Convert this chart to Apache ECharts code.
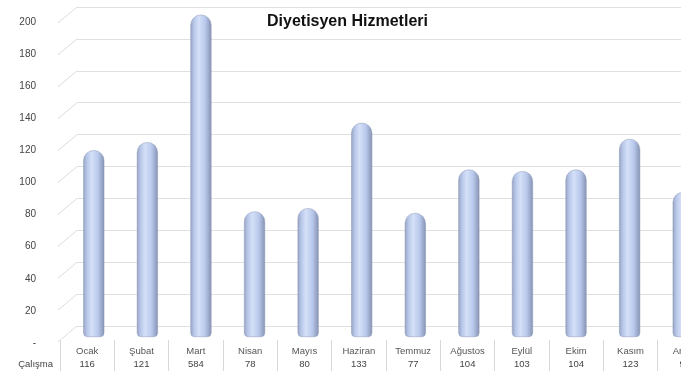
<!DOCTYPE html>
<html><head><meta charset="utf-8">
<script src="https://cdn.jsdelivr.net/npm/echarts@6/dist/echarts.min.js"></script>
<style>
html,body{margin:0;padding:0;background:#fff;}
#clip{width:681px;height:371px;overflow:hidden;position:relative;}
#main{width:720px;height:371px;}
</style></head>
<body>
<div id="clip"><div id="main"></div></div>
<script>
const months = ['Ocak','Şubat','Mart','Nisan','Mayıs','Haziran','Temmuz','Ağustos','Eylül','Ekim','Kasım','Aralık'];
const calisma = [116,121,584,78,80,133,77,104,103,104,123,90];
const yTicks = [0,20,40,60,80,100,120,140,160,180,200];
const rowLabel = 'Çalışma';
const titleText = 'Diyetisyen Hizmetleri';

const chart = echarts.init(document.getElementById('main'), null, {renderer:'canvas'});
const F = '"Liberation Sans", Arial, sans-serif';
const barGrad = new echarts.graphic.LinearGradient(0,0,1,0,[
  {offset:0, color:'#97a3c2'},
  {offset:0.18, color:'#b9c8ea'},
  {offset:0.4, color:'#d5e0f8'},
  {offset:0.7, color:'#b9c9ec'},
  {offset:1, color:'#8593b2'}
]);
chart.setOption({
  animation:false,
  title:{text:titleText, left:262, top:9, textStyle:{fontFamily:F, fontSize:16, fontWeight:'bold', color:'#111'}},
  grid:[
    {left:40, top:22, height:321, width:10},
    {left:77, top:7, height:319, width:643},
    {left:67, top:15, height:322, width:643},
    {left:60, top:340, height:31, width:652}
  ],
  xAxis:[
    {gridIndex:0, type:'value', show:false, min:0, max:1},
    {gridIndex:1, type:'value', show:false, min:0, max:1},
    {gridIndex:2, type:'category', data:months, show:false},
    {gridIndex:3, type:'category', data:months, position:'top',
     axisLine:{show:false}, axisTick:{show:false},
     splitLine:{show:true, lineStyle:{color:'#d8d8d8', width:1}},
     axisLabel:{inside:true, margin:5, interval:0,
       formatter:(v, i)=>'{a|'+v+'}\n{b|'+calisma[i]+'}',
       rich:{a:{fontFamily:F, fontSize:9.5, color:'#555', lineHeight:13},
             b:{fontFamily:F, fontSize:9.5, color:'#444', lineHeight:13}}}}
  ],
  yAxis:[
    {gridIndex:0, type:'value', min:0, max:200, interval:20,
     axisLine:{show:false}, axisTick:{show:false}, splitLine:{show:false},
     axisLabel:{margin:4, fontFamily:F, fontSize:10, color:'#444',
       formatter:v=> v===0 ? '-' : String(v)}},
    {gridIndex:1, type:'value', min:0, max:200, interval:20,
     axisLine:{show:false}, axisTick:{show:false}, axisLabel:{show:false},
     splitLine:{show:true, lineStyle:{color:'#e0e0e0', width:1}}},
    {gridIndex:2, type:'value', min:0, max:200, show:false},
    {gridIndex:3, type:'value', show:false}
  ],
  graphic:[
    {type:'text', right:720-53, top:359, style:{text:rowLabel, font:'9.5px '+F, fill:'#444', textAlign:'right'}}
  ],
  series:[
    {type:'custom', xAxisIndex:1, yAxisIndex:1, silent:true,
     data:yTicks.map(v=>[0,v]),
     renderItem:(params, api)=>{
       const p = api.coord([0, api.value(1)]);
       return {type:'line', shape:{x1:p[0], y1:p[1], x2:p[0]-19, y2:p[1]+16},
               style:{stroke:'#dcdcdc', lineWidth:1}};
     }},
    {type:'bar', xAxisIndex:2, yAxisIndex:2, data:calisma, clip:true, barWidth:21,
     itemStyle:{color:barGrad, borderRadius:[10,10,4,4], borderColor:'#8d99b7', borderWidth:0.5}}
  ]
});
</script>
</body></html>
